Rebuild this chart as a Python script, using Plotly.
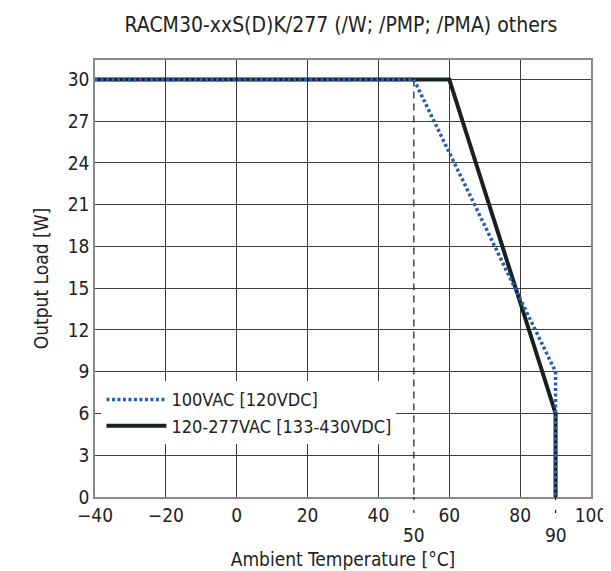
import plotly.graph_objects as go

title_text = "RACM30-xxS(D)K/277 (/W; /PMP; /PMA) others"
x_title = "Ambient Temperature [°C]"
y_title = "Output Load [W]"

# Series data (temperature in °C, load in W)
s1_name = "100VAC [120VDC]"
s1_temp = [-40, 50, 90, 90]
s1_load = [30, 30, 9, 0]

s2_name = "120-277VAC [133-430VDC]"
s2_temp = [-40, 60, 90, 90]
s2_load = [30, 30, 6, 0]

x_ticks = [-40, -20, 0, 20, 40, 60, 80, 100]
y_ticks = [0, 3, 6, 9, 12, 15, 18, 21, 24, 27, 30]
extra_x_labels = [50, 90]
dashed_marker_x = 50

FONT = "Liberation Sans Narrow, DejaVu Sans Condensed, Arial Narrow, sans-serif"
TXT = "#222222"

fig = go.Figure()

fig.add_trace(go.Scatter(
    x=s2_temp, y=s2_load, mode="lines", name=s2_name,
    line=dict(color="#17211f", width=4), legendrank=2, cliponaxis=False,
))
fig.add_trace(go.Scatter(
    x=s1_temp, y=s1_load, mode="lines", name=s1_name,
    line=dict(color="#2a5dab", width=3.5, dash="3px,2.5px"), legendrank=1,
    cliponaxis=False,
))

# dashed guide line at 50 °C extending below the axis
fig.add_shape(type="line", xref="x", yref="y", x0=dashed_marker_x, x1=dashed_marker_x,
              y0=30, y1=0, line=dict(color="#1a1a1a", width=1.2, dash="7px,5px"), layer="below")
fig.add_shape(type="line", xref="x", yref="paper", x0=dashed_marker_x, x1=dashed_marker_x,
              y0=0, y1=-0.05, line=dict(color="#1a1a1a", width=1.2, dash="3px,10px"))
fig.add_shape(type="line", xref="x", yref="paper", x0=90, x1=90,
              y0=0, y1=-0.05, line=dict(color="#1a1a1a", width=1.2, dash="3px,10px"))

for v in extra_x_labels:
    fig.add_annotation(x=v, xref="x", y=-0.058, yref="paper", text=str(v),
                       showarrow=False, yanchor="top",
                       font=dict(family=FONT, size=19, color=TXT))

fig.update_layout(
    width=611, height=571,
    margin=dict(l=87, r=18, t=52, b=76),
    paper_bgcolor="white", plot_bgcolor="white",
    font=dict(family=FONT, size=19, color=TXT),
    title=dict(text=title_text, x=0.545, xanchor="center", y=0.97, yanchor="middle",
               font=dict(family=FONT, size=21, color=TXT)),
    showlegend=True,
    legend=dict(x=0.013, y=0.265, xanchor="left", yanchor="top",
                bgcolor="white", borderwidth=0,
                font=dict(family=FONT, size=18, color=TXT),
                itemwidth=60, tracegroupgap=0),
)

fig.update_xaxes(
    range=[-40, 100], tickvals=x_ticks, ticks="", showgrid=True,
    gridcolor="#3c3c3c", gridwidth=1, zeroline=False,
    showline=True, linecolor="#8a8a8a", linewidth=1.5, mirror=True,
    title=dict(text=x_title, standoff=28, font=dict(family=FONT, size=19, color=TXT)),
    tickfont=dict(family=FONT, size=19, color=TXT), fixedrange=True,
)
fig.update_yaxes(
    range=[0, 31.4], tickvals=y_ticks, ticks="", showgrid=True,
    gridcolor="#3c3c3c", gridwidth=1, zeroline=False,
    showline=True, linecolor="#8a8a8a", linewidth=1.5, mirror=True,
    title=dict(text=y_title, standoff=14, font=dict(family=FONT, size=19, color=TXT)),
    tickfont=dict(family=FONT, size=19, color=TXT), fixedrange=True,
)

fig.write_html("out.html")
